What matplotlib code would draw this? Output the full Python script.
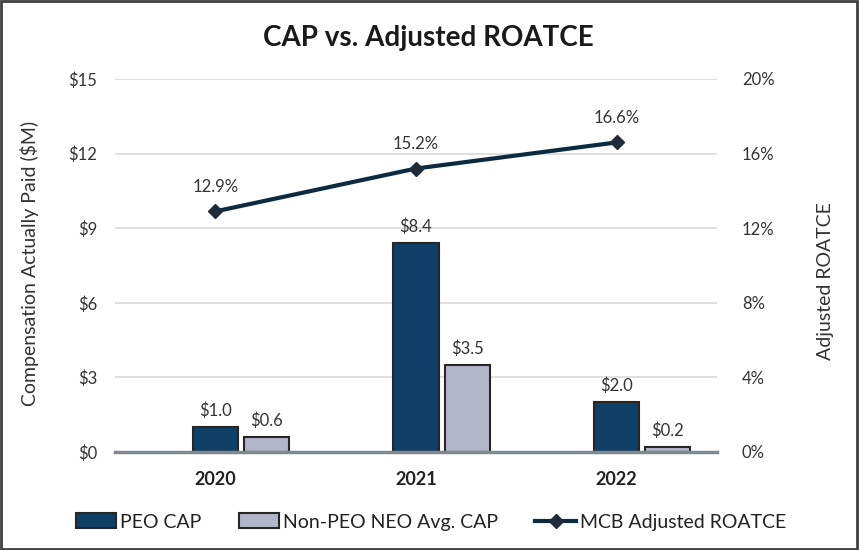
import matplotlib
matplotlib.use("Agg")
import matplotlib.pyplot as plt
from matplotlib.lines import Line2D
from matplotlib.patches import Patch, Rectangle
import numpy as np

plt.rcParams['font.family'] = ['Lato', 'DejaVu Sans']

years = ["2020", "2021", "2022"]
peo_cap = [1.0, 8.4, 2.0]
non_peo_cap = [0.6, 3.5, 0.2]
roatce = [12.9, 15.2, 16.6]
left_ticks = [0, 3, 6, 9, 12, 15]
right_ticks = [0, 4, 8, 12, 16, 20]

c_peo = "#0F3F66"
c_non = "#B3B6C9"
c_line = "#0D2B40"
c_text = "#333333"

W, H = 859, 550
fig = plt.figure(figsize=(8.59, 5.50), dpi=100)
ax = fig.add_axes([115/W, 1-452/H, 602/W, 373/H])
ax2 = ax.twinx()

x = np.arange(len(years))
w = 0.225
off = 0.255
ax.bar(x, peo_cap, w, color=c_peo, edgecolor="#262626", linewidth=1.5, zorder=3)
ax.bar(x + off, non_peo_cap, w, color=c_non, edgecolor="#262626", linewidth=1.5, zorder=3)
for xi, v in zip(x, peo_cap):
    ax.annotate(f"${v:.1f}", (xi, v), xytext=(0, 6), textcoords="offset points",
                ha="center", va="bottom", fontsize=12, color=c_text)
for xi, v in zip(x, non_peo_cap):
    ax.annotate(f"${v:.1f}", (xi + off, v), xytext=(0, 6), textcoords="offset points",
                ha="center", va="bottom", fontsize=12, color=c_text)

ax.set_xlim(-0.5, 2.5)
ax.set_ylim(0, 15)
ax.set_yticks(left_ticks)
ax.set_yticklabels([f"${t}" for t in left_ticks])
ax.set_xticks(x)
ax.set_xticklabels(years, fontweight="bold", fontsize=13, color="#222222")
ax.tick_params(axis="x", length=0, pad=14)
ax.tick_params(axis="y", length=0, labelsize=12, labelcolor=c_text, pad=13)
ax.grid(axis="y", color="#D9D9D9", linewidth=1.2, zorder=0)
ax.set_axisbelow(True)
for s in ["top", "right", "left"]:
    ax.spines[s].set_visible(False)
ax.spines["bottom"].set_color("#808890")
ax.spines["bottom"].set_linewidth(2.5)
ax.spines["bottom"].set_zorder(4)

ax2.plot(x, roatce, color=c_line, linewidth=3, marker="D", markersize=7,
         markerfacecolor="#1E2B38", markeredgecolor="#1E2B38", zorder=5)
for xi, v in zip(x, roatce):
    ax2.annotate(f"{v:.1f}%", (xi, v), xytext=(0, 12), textcoords="offset points",
                 ha="center", va="bottom", fontsize=12, color=c_text)
ax2.set_ylim(0, 20)
ax2.set_yticks(right_ticks)
ax2.set_yticklabels([f"{t}%" for t in right_ticks])
ax2.tick_params(axis="y", length=0, labelsize=12, labelcolor=c_text, pad=18)
for s in ["top", "right", "left", "bottom"]:
    ax2.spines[s].set_visible(False)

fig.text(30/W, 1-263/H, "Compensation Actually Paid ($M)", rotation=90,
         ha="center", va="center", fontsize=14, color=c_text)
fig.text(826/W, 1-281/H, "Adjusted ROATCE", rotation=90,
         ha="center", va="center", fontsize=14, color=c_text)

fig.text(428/W, 1-38/H, "CAP vs. Adjusted ROATCE", ha="center", va="center",
         fontsize=20, fontweight="bold", color="#1A1A1A")

handles = [
    Patch(facecolor=c_peo, edgecolor="#262626", linewidth=1.5, label="PEO CAP"),
    Patch(facecolor=c_non, edgecolor="#262626", linewidth=1.5, label="Non-PEO NEO Avg. CAP"),
    Line2D([0], [0], color=c_line, linewidth=3, marker="D", markersize=7,
           markerfacecolor="#1E2B38", markeredgecolor="#1E2B38", label="MCB Adjusted ROATCE"),
]
fig.legend(handles=handles, loc="center", bbox_to_anchor=(431/W, 1-522/H), ncol=3,
           frameon=False, fontsize=14, handlelength=2.1, handleheight=0.8,
           handletextpad=0.2, columnspacing=1.9, labelcolor="#222222")

fig.add_artist(Rectangle((0.001, 0.001), 0.997, 0.997, transform=fig.transFigure,
                         fill=False, edgecolor="#404040", linewidth=2))

fig.savefig("out.png", dpi=100)
